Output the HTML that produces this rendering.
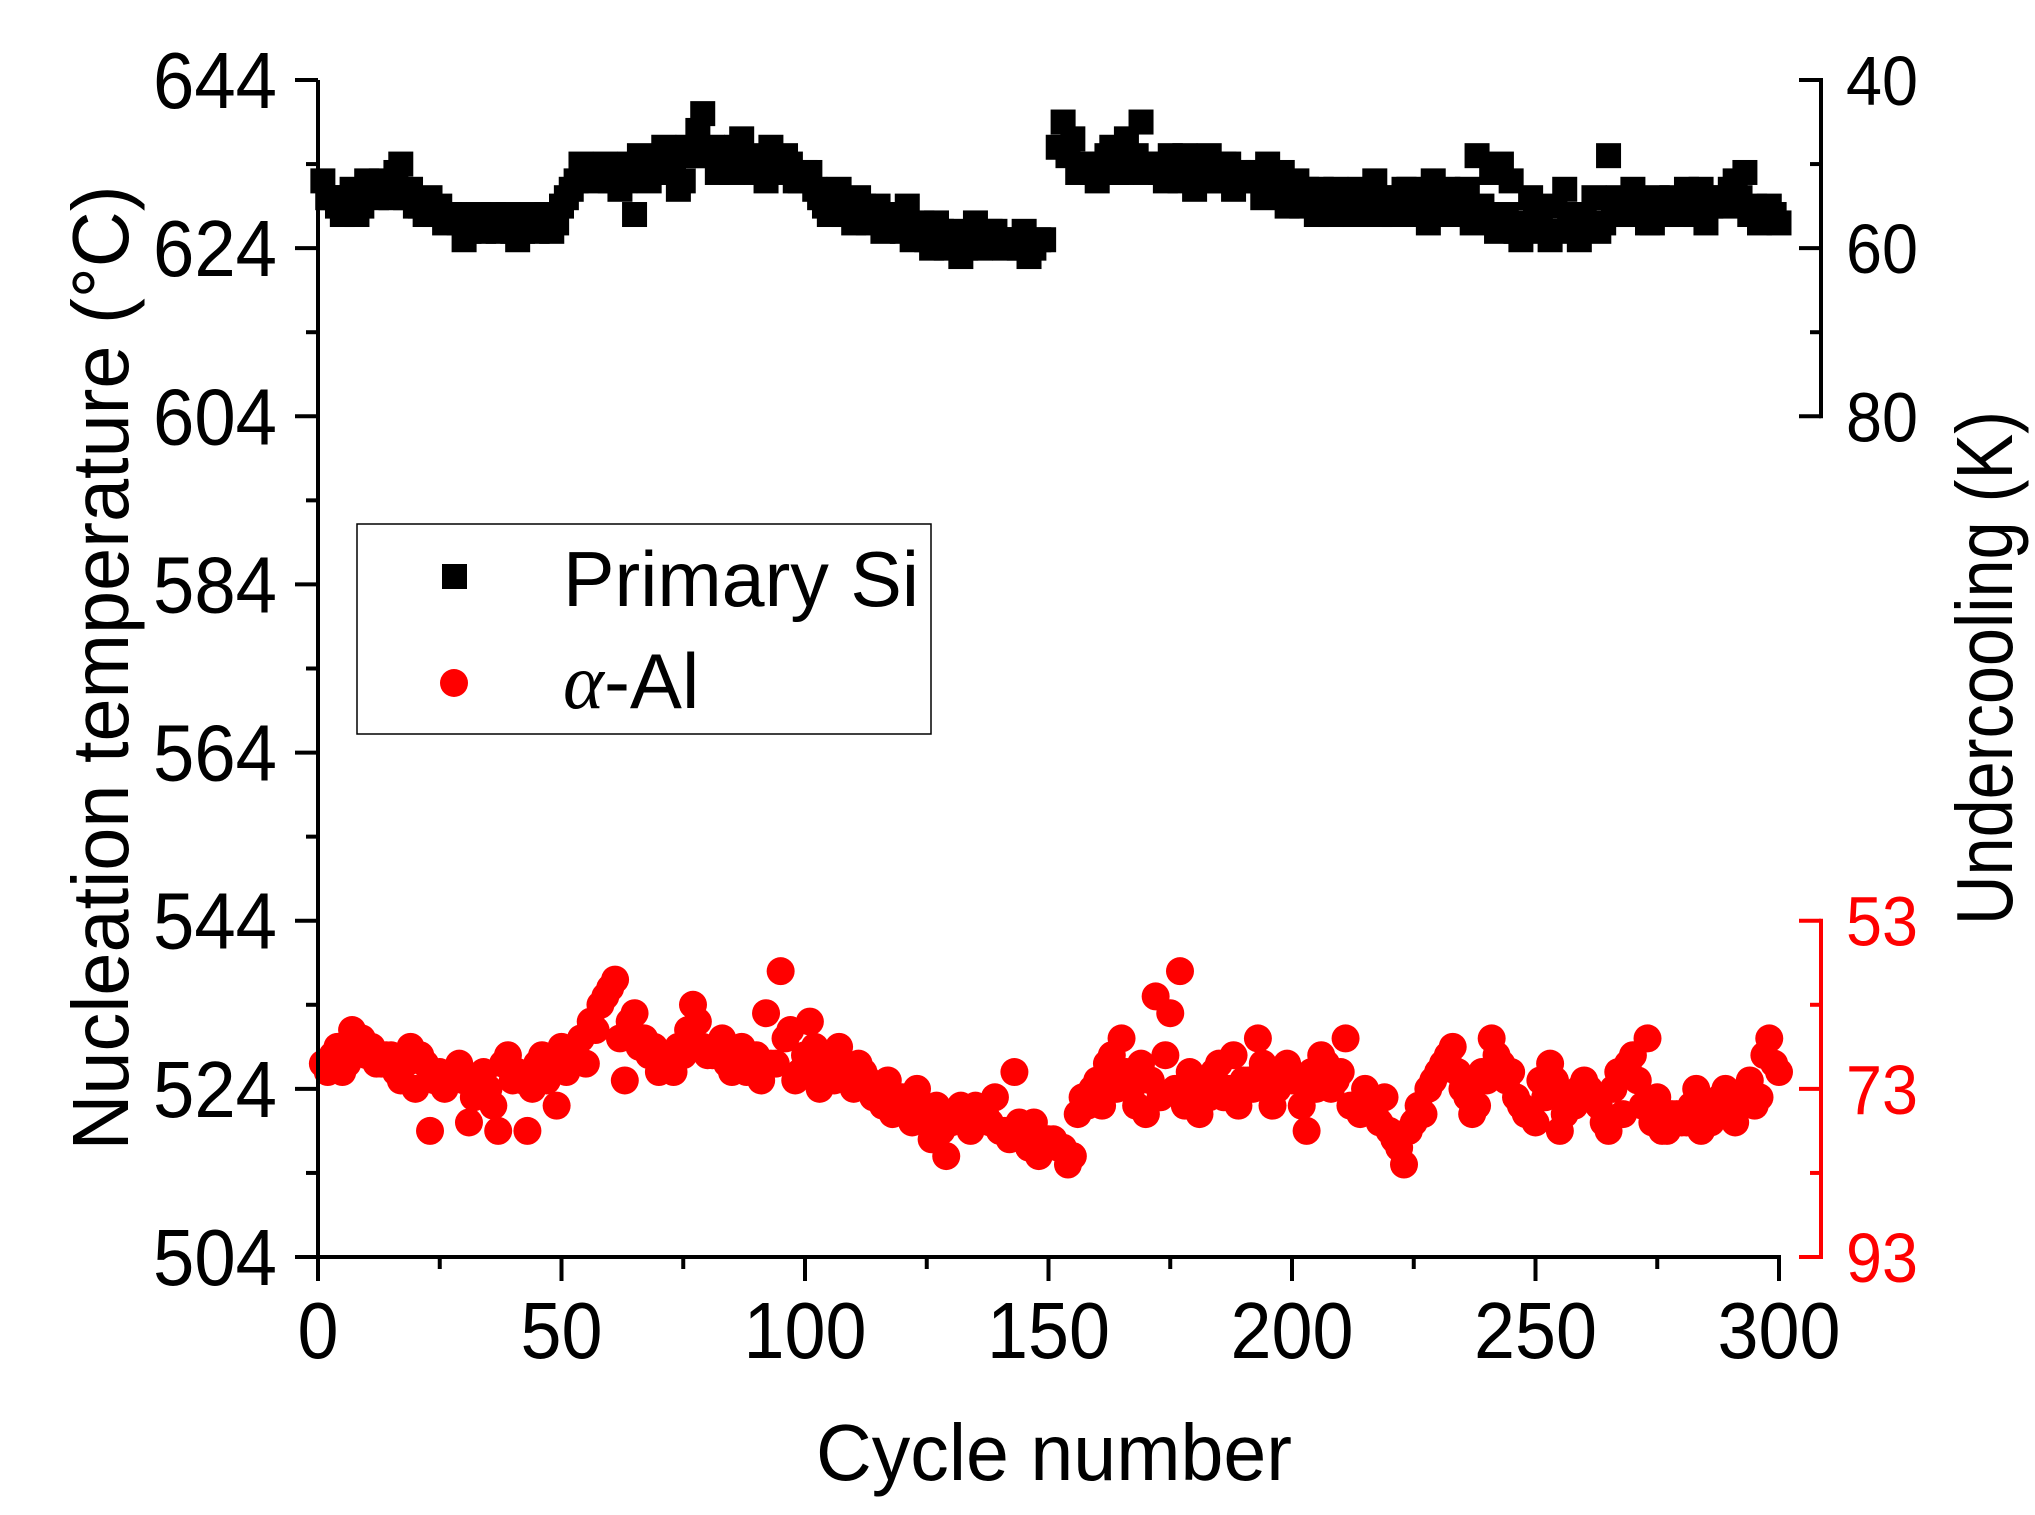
<!DOCTYPE html>
<html><head><meta charset="utf-8"><style>
html,body{margin:0;padding:0;background:#fff;}
svg{display:block;font-family:"Liberation Sans",Arial,sans-serif;}
</style></head><body>
<svg id="chart" width="2035" height="1515" viewBox="0 0 2035 1515">
<rect x="0" y="0" width="2035" height="1515" fill="#fff"/>
<g id="marks"></g>
<g id="axes"></g>
<g>
<rect x="357" y="524" width="574" height="210" fill="none" stroke="#000" stroke-width="1.5"/>
<rect x="442" y="564" width="25" height="25" fill="#000"/>
<text x="563" y="606" font-size="78" textLength="356" lengthAdjust="spacingAndGlyphs">Primary Si</text>
<circle cx="454" cy="683" r="14" fill="#f00"/>
<text x="563" y="708" font-size="78"><tspan font-family="Liberation Serif,serif" font-style="italic">α</tspan>-Al</text>
</g>
<text transform="translate(128,668) rotate(-90)" text-anchor="middle" font-size="80" textLength="965" lengthAdjust="spacingAndGlyphs">Nucleation temperature (°C)</text>
<text x="1054" y="1480" text-anchor="middle" font-size="80" textLength="476" lengthAdjust="spacingAndGlyphs">Cycle number</text>
<text transform="translate(2012,668) rotate(-90)" text-anchor="middle" font-size="80" textLength="514" lengthAdjust="spacingAndGlyphs">Undercooling (K)</text>
</svg>
<script>
const siCyclesOdd = [];
for (let c = 1; c <= 149; c += 2) siCyclesOdd.push(c);
for (let c = 153; c <= 299; c += 2) siCyclesOdd.push(c);
const siTempsOdd = [
632,630,628,631,629,631,632,630,634,631,
629,630,629,628,627,626,628,627,626,628,
625,627,626,628,627,630,632,633,632,634,
633,632,628,634,633,636,634,632,635,640,
636,634,633,637,635,634,636,633,634,632,
633,630,628,631,629,630,627,629,628,627,
629,626,625,627,624,626,624,627,625,626,
624,625,626,624,625,
639,637,634,633,634,636,633,634,639,634,
633,635,632,634,633,635,632,634,633,632,
633,634,631,629,632,631,628,630,631,629,
628,630,632,630,628,631,629,630,632,629,
628,630,627,629,633,634,632,625,630,627,
625,626,628,625,627,626,635,630,628,629,
627,630,628,629,631,628,627,630,629,632,
633,629,628,628];
const siCyclesEven = [];
for (let c = 2; c <= 148; c += 2) siCyclesEven.push(c);
for (let c = 152; c <= 300; c += 2) siCyclesEven.push(c);
const siTempsEven = [
630,629,630,628,632,630,631,633,630,629,
628,628,627,628,625,627,626,628,627,626,
626,628,627,626,629,631,634,633,633,632,
631,634,635,632,634,633,631,636,638,635,
633,635,636,634,633,632,634,635,632,633,
631,629,630,628,627,629,628,626,628,626,
625,627,624,626,625,623,625,624,626,625,
625,624,623,625,
636,635,633,634,632,635,633,637,635,633,
634,632,633,635,631,633,632,634,631,633,
632,630,631,633,630,629,630,631,628,630,
629,631,629,628,630,629,631,628,627,629,
631,629,631,635,628,626,628,626,627,628,
626,629,631,627,628,630,627,629,628,631,
629,627,629,630,628,630,631,629,630,631,
630,628,627,629,627];
const alCyclesOdd = [];
for (let c = 1; c <= 299; c += 2) alCyclesOdd.push(c);
const alTempsOdd = [
527,528,526,531,530,529,527,528,525,529,
528,519,526,525,527,520,525,524,519,528,
526,519,527,525,522,526,528,527,531,535,
537,525,533,530,529,527,526,528,534,529,
528,530,526,529,527,525,527,538,531,526,
532,524,527,529,526,527,525,523,525,522,
521,524,520,522,516,521,520,522,521,523,
519,526,518,520,517,518,517,516,523,524,
522,528,530,524,527,525,523,533,538,526,
521,523,527,524,522,525,530,526,524,527,
525,519,524,527,525,530,522,524,521,523,
518,515,520,521,525,527,529,524,521,526,
530,527,526,522,521,525,527,519,523,524,
524,522,519,526,527,525,530,523,519,521,
520,524,521,522,524,520,523,522,528,527];
const alCyclesEven = [];
for (let c = 2; c <= 300; c += 2) alCyclesEven.push(c);
const alTempsEven = [
526,529,527,530,528,527,528,526,527,524,
527,525,524,526,525,523,526,522,527,525,
525,524,528,526,529,527,530,532,534,536,
530,532,529,528,526,528,529,531,532,528,
529,527,528,526,528,533,527,530,525,528,
529,526,525,527,524,526,523,522,521,523,
520,522,518,519,520,522,519,521,520,519,
518,520,517,516,518,517,515,521,522,525,
527,524,526,522,521,535,528,524,522,525,
524,526,523,528,525,524,527,522,526,525,
522,526,528,524,526,522,521,523,520,519,
517,519,522,524,526,528,526,523,522,525,
528,525,523,521,520,523,525,521,522,525,
523,520,524,521,528,522,520,519,521,520,
522,519,520,523,521,522,525,523,530,526];
const leftTicks = [504,524,544,564,584,604,624,644];
const xTicks = [0,50,100,150,200,250,300];
const siUnderTicks = [40,60,80];
const alUnderTicks = [53,73,93];

const NS = "http://www.w3.org/2000/svg";
const X0 = 318, X1 = 1779, Y0 = 1257, Y1 = 80;
const xs = c => X0 + (c / 300) * (X1 - X0);
const ys = t => Y0 - ((t - 504) / 140) * (Y0 - Y1);
function mk(tag, attrs, parent) {
  const e = document.createElementNS(NS, tag);
  for (const k in attrs) e.setAttribute(k, attrs[k]);
  parent.appendChild(e);
  return e;
}
const marks = document.getElementById('marks');
const axes = document.getElementById('axes');
function drawSi(cycles, temps) {
  cycles.forEach((c, i) => {
    const r = mk('rect', {x: xs(c) - 12.5, y: ys(temps[i]) - 12.5, width: 25, height: 25, fill: '#000'}, marks);
    
    
  });
}
function drawAl(cycles, temps) {
  cycles.forEach((c, i) => {
    const p = mk('circle', {cx: xs(c), cy: ys(temps[i]), r: 14, fill: '#f00'}, marks);
    
    
  });
}
drawSi(siCyclesOdd, siTempsOdd);
drawSi(siCyclesEven, siTempsEven);
drawAl(alCyclesOdd, alTempsOdd);
drawAl(alCyclesEven, alTempsEven);
let l = mk('line', {x1: X0, y1: Y1, x2: X0, y2: Y0 + 2, stroke: '#000', 'stroke-width': 4}, axes);


l = mk('line', {x1: X0 - 2, y1: Y0, x2: X1 + 2, y2: Y0, stroke: '#000', 'stroke-width': 4}, axes);


for (let t = 504; t <= 644; t += 10) {
  const major = (t - 504) % 20 === 0;
  const tk = mk('line', {x1: X0 - (major ? 23 : 12), y1: ys(t), x2: X0, y2: ys(t), stroke: '#000', 'stroke-width': 4}, axes);
  
  
}
leftTicks.forEach(t => {
  const tx = mk('text', {x: 277, y: ys(t) + 28, 'text-anchor': 'end', 'font-size': 80, textLength: 124, lengthAdjust: 'spacingAndGlyphs'}, axes);
  tx.textContent = t;
  
  
});
for (let c = 0; c <= 300; c += 25) {
  const major = c % 50 === 0;
  const tk = mk('line', {x1: xs(c), y1: Y0, x2: xs(c), y2: Y0 + (major ? 24 : 12), stroke: '#000', 'stroke-width': 4}, axes);
  
  
}
xTicks.forEach(c => {
  const s = String(c);
  const tx = mk('text', {x: xs(c), y: 1358, 'text-anchor': 'middle', 'font-size': 80, textLength: 41 * s.length, lengthAdjust: 'spacingAndGlyphs'}, axes);
  tx.textContent = s;
  
  
});
const RX = 1821;
l = mk('line', {x1: RX, y1: ys(644) - 2, x2: RX, y2: ys(604) + 2, stroke: '#000', 'stroke-width': 4}, axes);


for (let u = 40; u <= 80; u += 10) {
  const major = u % 20 === 0;
  const tk = mk('line', {x1: RX - (major ? 22 : 11), y1: ys(684 - u), x2: RX, y2: ys(684 - u), stroke: '#000', 'stroke-width': 4}, axes);
  
  
}
siUnderTicks.forEach(u => {
  const tx = mk('text', {x: 1846, y: ys(684 - u) + 25, 'font-size': 70, textLength: 72, lengthAdjust: 'spacingAndGlyphs'}, axes);
  tx.textContent = u;
  
  
});
l = mk('line', {x1: RX, y1: ys(544) - 2, x2: RX, y2: ys(504) + 2, stroke: '#f00', 'stroke-width': 4}, axes);


for (let u = 53; u <= 93; u += 10) {
  const major = (u - 53) % 20 === 0;
  const tk = mk('line', {x1: RX - (major ? 22 : 11), y1: ys(597 - u), x2: RX, y2: ys(597 - u), stroke: '#f00', 'stroke-width': 4}, axes);
  
  
}
alUnderTicks.forEach(u => {
  const tx = mk('text', {x: 1846, y: ys(597 - u) + 25, 'font-size': 70, fill: '#f00', textLength: 72, lengthAdjust: 'spacingAndGlyphs'}, axes);
  tx.textContent = u;
  
  
});
</script>
</body></html>
